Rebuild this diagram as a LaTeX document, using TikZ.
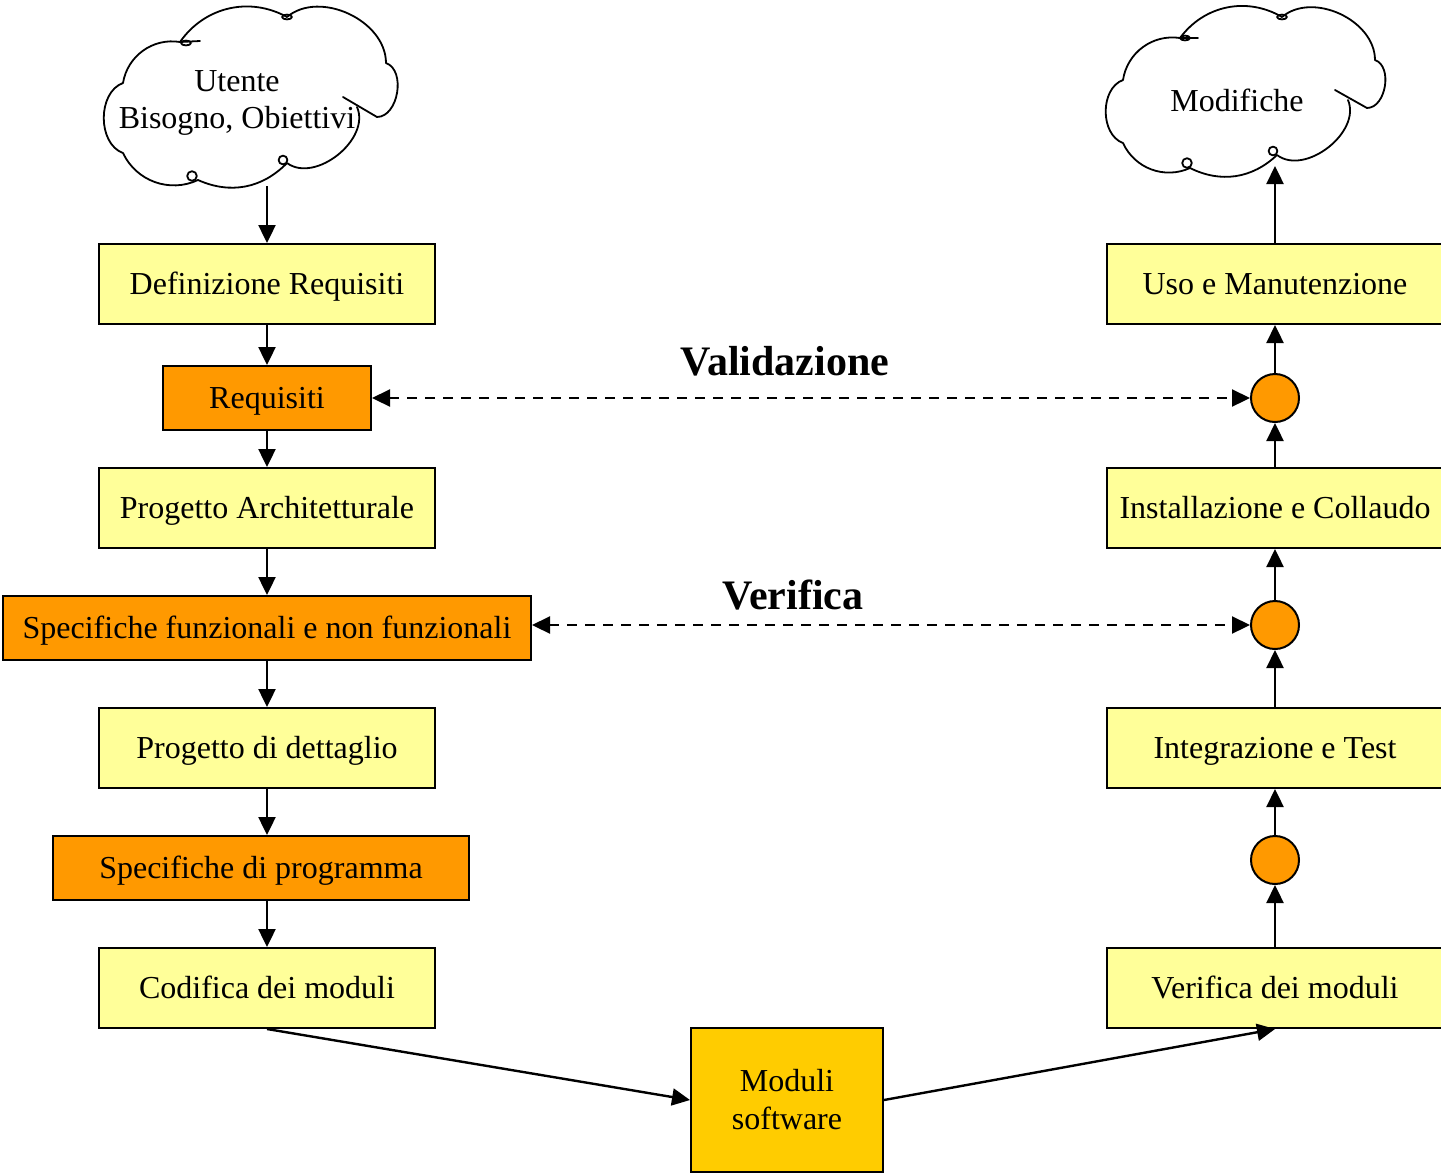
\documentclass[tikz,border=0pt]{standalone}
\usepackage{fontspec}
\setmainfont{Liberation Serif}
\usetikzlibrary{arrows.meta}
\definecolor{lyel}{HTML}{FFFF99}
\definecolor{orng}{HTML}{FF9900}
\definecolor{gold}{HTML}{FFCC00}
\begin{document}
\begin{tikzpicture}[x=0.5pt,y=-0.5pt,
  box/.style={draw, line width=1pt, fill=lyel, minimum width=168pt, minimum height=40pt, inner sep=0pt, font=\fontsize{16}{19}\selectfont, text height=10.8pt, text depth=0pt},
  obox/.style={box, fill=orng, minimum height=32pt},
  dot/.style={circle, draw, line width=1pt, fill=orng, minimum size=24pt, inner sep=0pt},
  tip/.tip={Triangle[length=9pt,width=8.5pt]},
  arr/.style={line width=1.2pt, -tip},
  darr/.style={line width=1.1pt, dash pattern=on 5pt off 4pt, tip-tip},
  cl/.style={line width=0.9pt, line join=round, line cap=round},
  lbl/.style={font=\fontsize{21}{24}\selectfont\bfseries},
  ctext/.style={font=\fontsize{16}{18.5}\selectfont, align=center}
]
\useasboundingbox (0,0) rectangle (1441,1174);

% left column
\node[box] (def) at (267,284) {Definizione Requisiti};
\node[obox, minimum width=104pt] (req) at (267,398) {Requisiti};
\node[box] (arch) at (267,508) {Progetto Architetturale};
\node[obox, minimum width=264pt] (spf) at (267,628) {Specifiche funzionali e non funzionali};
\node[box] (det) at (267,748) {Progetto di dettaglio};
\node[obox, minimum width=208pt] (spp) at (261,868) {Specifiche di programma};
\node[box] (cod) at (267,988) {Codifica dei moduli};
\node[draw, line width=1pt, fill=gold, minimum width=96pt, minimum height=72pt, inner sep=0pt, align=center, font=\fontsize{16}{19}\selectfont] (mod) at (787,1100) {Moduli\\software};

% right column
\node[box] (ver) at (1275,988) {Verifica dei moduli};
\node[dot] (c3) at (1275,860) {};
\node[box] (int) at (1275,748) {Integrazione e Test};
\node[dot] (c2) at (1275,625) {};
\node[box] (inst) at (1275,508) {Installazione e Collaudo};
\node[dot] (c1) at (1275,398) {};
\node[box] (uso) at (1275,284) {Uso e Manutenzione};

% labels
\node[lbl] (val) at (785,361) {Validazione};
\node[lbl] (vrf) at (793,595) {Verifica};

% clouds
\draw[cl] (200,41) -- (180,42) to[bend left=42] (287,17) to[bend left=65] (386,63) to[bend left=80] (377,117) -- (343,97);
\draw[cl] (357,107) to[bend left=75] (287,163) to[bend left=35] (198,180) to[bend left=45] (123,153) to[bend left=70] (123,83) to[bend left=45] (180,42);
\draw[cl] (287,17) ellipse [x radius=2.5pt, y radius=1.2pt];
\draw[cl] (283,160) circle [radius=2.2pt];
\draw[cl] (192,176) circle [radius=2.4pt];
\draw[cl] (186,43) ellipse [x radius=2.5pt, y radius=1.2pt];
\node[ctext] (ut) at (237,103) {Utente\\Bisogno, Obiettivi};
\coordinate (cb1) at (267,186);

\draw[cl] (1198,38) -- (1180,38) to[bend left=42] (1282,17) to[bend left=65] (1375,60) to[bend left=80] (1367,108) -- (1335,90);
\draw[cl] (1348,100) to[bend left=75] (1277,155) to[bend left=35] (1190,168) to[bend left=45] (1123,143) to[bend left=70] (1123,80) to[bend left=45] (1180,38);
\draw[cl] (1282,17) ellipse [x radius=2.5pt, y radius=1.2pt];
\draw[cl] (1273,151) circle [radius=2.2pt];
\draw[cl] (1187,163) circle [radius=2.4pt];
\draw[cl] (1185,38) ellipse [x radius=2.5pt, y radius=1.2pt];
\node[ctext] (mf) at (1237,100) {Modifiche};
\coordinate (cb2) at (1275,166);

% connectors left
\draw[arr] (cb1) -- (def.north);
\draw[arr] (def.south) -- (req.north);
\draw[arr] (req.south) -- (arch.north);
\draw[arr] (arch.south) -- (spf.north);
\draw[arr] (spf.south) -- (det.north);
\draw[arr] (det.south) -- (det.south |- spp.north);
\draw[arr] (det.south |- spp.south) -- (cod.north);
\draw[arr] (cod.south) -- (mod.west);
\draw[arr] (mod.east) -- (ver.south);

% connectors right
\draw[arr] (ver.north) -- (c3.south);
\draw[arr] (c3.north) -- (int.south);
\draw[arr] (int.north) -- (c2.south);
\draw[arr] (c2.north) -- (inst.south);
\draw[arr] (inst.north) -- (c1.south);
\draw[arr] (c1.north) -- (uso.south);
\draw[arr] (uso.north) -- (cb2);

% dashed
\draw[darr] (req.east) -- (c1.west);
\draw[darr] (c2.west -| spf.east) -- (c2.west);
\end{tikzpicture}
\end{document}
